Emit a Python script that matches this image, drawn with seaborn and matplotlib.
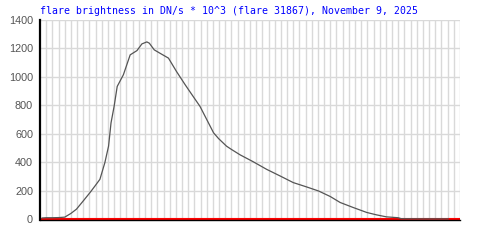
import matplotlib
matplotlib.use("Agg")
import matplotlib.pyplot as plt
import seaborn as sns
import pandas as pd

minutes = [0.3, 1, 2, 3, 4, 5, 5.9, 7.0, 8.1, 8.9, 9.7, 10.5, 11.1, 11.5, 12.0,
           12.5, 13.5, 14.6, 15.7, 16.5, 17.3, 17.7, 18.5, 19.4, 20.8, 22.1,
           23.5, 24.6, 25.9, 27.0, 28.1, 28.9, 30.2, 31.0, 32.4, 34.5, 36.7,
           38.9, 41.0, 43.2, 45.1, 47.0, 48.6, 50.7, 52.9, 54.5, 56.1, 58.0,
           58.5, 62.0, 66.1]
brightness = [8, 10, 10, 11, 14, 40, 70, 128, 187, 233, 280, 397, 513, 677, 793,
              933, 1015, 1155, 1185, 1232, 1246, 1237, 1190, 1167, 1132, 1038,
              945, 875, 793, 700, 607, 567, 513, 490, 452, 404, 350,
              303, 257, 226, 198, 159, 117, 82, 47, 30, 16, 10,
              3, 2, 2]
y_ticks = [0, 200, 400, 600, 800, 1000, 1200, 1400]
title_text = "flare brightness in DN/s * 10^3 (flare 31867), November 9, 2025"

df = pd.DataFrame({"minute": minutes, "brightness": brightness})

sns.set_style("white")
plt.rcParams["font.family"] = ["Liberation Sans", "DejaVu Sans"]

fig = plt.figure(figsize=(5, 2.5), dpi=100)
ax = fig.add_axes([0.08, 0.12, 0.84, 0.80])

ax.set_xlim(0, 68)
ax.set_ylim(-6, 1400)
for k in range(1, 69):
    ax.axvline(k, color="#d9d9d9", lw=1.0, zorder=0)
for t in y_ticks[1:]:
    ax.axhline(t, color="#d9d9d9", lw=1.0, zorder=0)

ax.axhline(0, color="#ff0000", lw=1.5, zorder=1)

sns.lineplot(data=df, x="minute", y="brightness", ax=ax, color="#555555",
             lw=0.9, zorder=3)

ax.set_yticks(y_ticks)
ax.set_yticklabels([str(t) for t in y_ticks], color="#555555", fontsize=7.8)
ax.set_xticks([])
ax.tick_params(axis="y", length=0, pad=5)
ax.set_xlabel("")
ax.set_ylabel("")

for s in ["top", "right"]:
    ax.spines[s].set_visible(False)
ax.spines["left"].set_color("black")
ax.spines["left"].set_linewidth(1.6)
ax.spines["bottom"].set_color("black")
ax.spines["bottom"].set_linewidth(1.0)

fig.text(0.08, 0.956, title_text, color="#0000ff", fontsize=7.1,
         family=["DejaVu Sans Mono"], ha="left", va="center")

fig.savefig("out.png", dpi=100)
